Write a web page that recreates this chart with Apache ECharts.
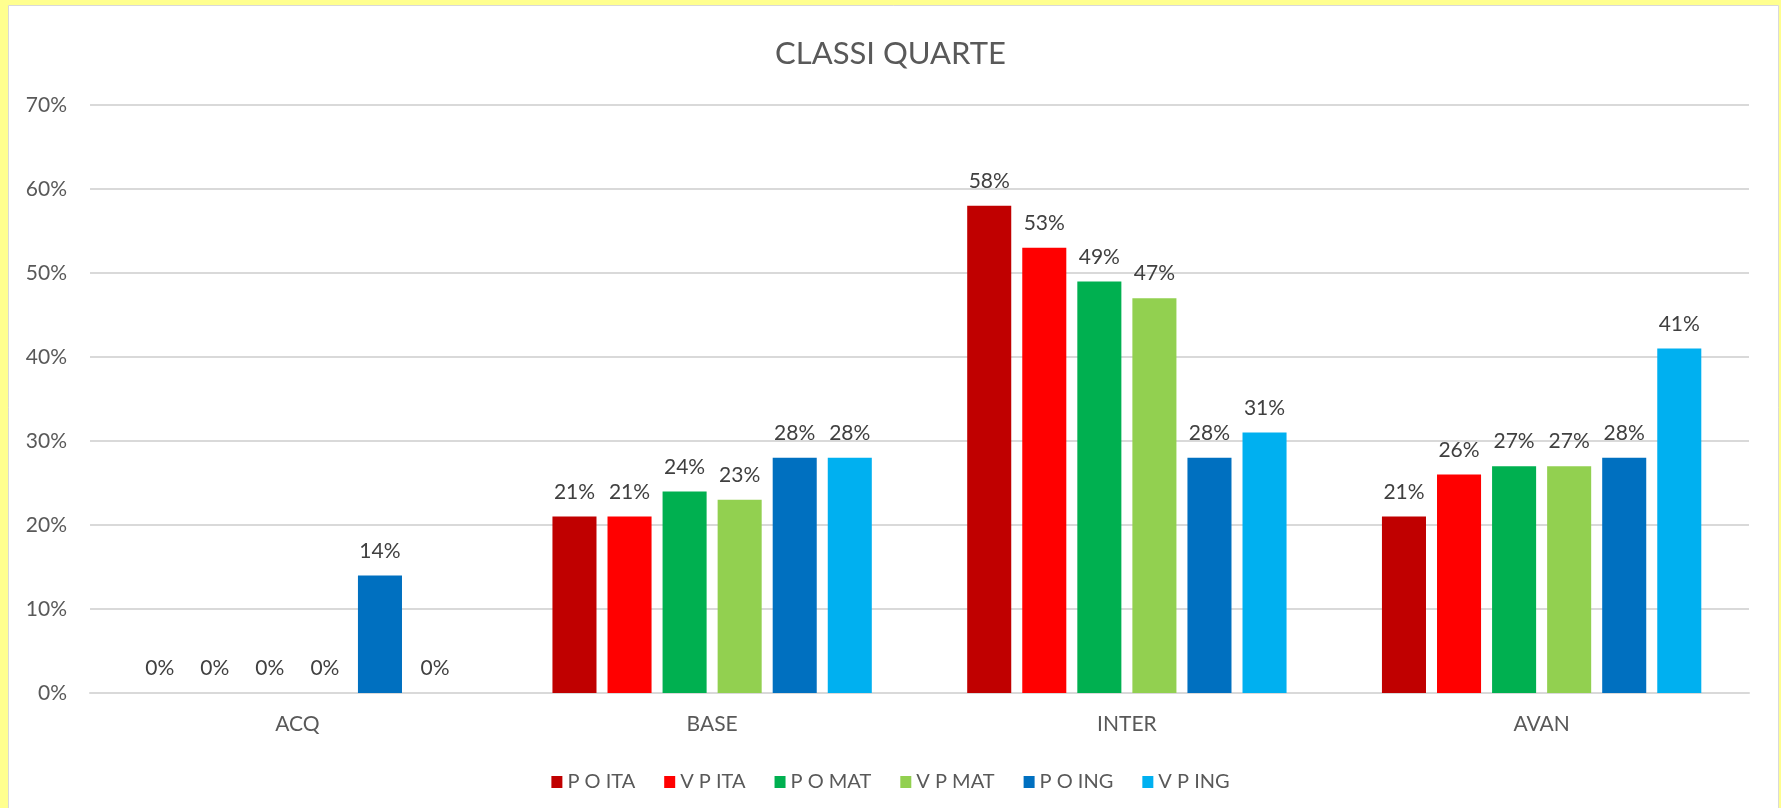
<!DOCTYPE html>
<html lang="it">
  <head>
    <meta charset="UTF-8" />
    <title>CLASSI QUARTE</title>
    <style>
      html, body { margin: 0; padding: 0; }
      #main { width: 1781px; height: 808px; }
    </style>
  </head>
  <body>
    <div id="main"></div>
    <script src="https://cdn.jsdelivr.net/npm/echarts@6/dist/echarts.min.js"></script>
    <script>
      // dati
      var categorie = ["ACQ", "BASE", "INTER", "AVAN"];
      var serieNomi = ["P O ITA", "V P ITA", "P O MAT", "V P MAT", "P O ING", "V P ING"];
      var colori = ["#C00000", "#FF0000", "#00B050", "#92D050", "#0070C0", "#00B0F0"];
      var poIta = [0, 21, 58, 21];
      var vpIta = [0, 21, 53, 26];
      var poMat = [0, 24, 49, 27];
      var vpMat = [0, 23, 47, 27];
      var poIng = [14, 28, 28, 28];
      var vpIng = [0, 28, 31, 41];
      var valori = [poIta, vpIta, poMat, vpMat, poIng, vpIng];

      var font = "Lato, 'Open Sans', sans-serif";
      var myChart = echarts.init(document.getElementById("main"));

      var series = serieNomi.map(function (nome, i) {
        return {
          name: nome,
          type: "bar",
          data: valori[i],
          barGap: "25%",
          barCategoryGap: "23%",
          itemStyle: { color: colori[i] },
          label: {
            show: true,
            position: "top",
            distance: 14,
            formatter: "{c}%",
            color: "#404040",
            fontSize: 21,
            fontFamily: font,
          },
        };
      });

      var option = {
        backgroundColor: "#FFFF8F",
        animation: false,
        graphic: [
          {
            type: "rect",
            shape: { x: 8.5, y: 5.5, width: 1770, height: 810 },
            style: { fill: "#FFFFFF", stroke: "#D9D9D9", lineWidth: 1 },
            z: -10,
          },
        ],
        title: {
          text: "CLASSI QUARTE",
          left: "center",
          top: 33,
          textStyle: {
            color: "#595959",
            fontSize: 31,
            fontWeight: "normal",
            fontFamily: font,
          },
        },
        legend: {
          data: serieNomi,
          left: "center",
          top: 767,
          icon: "rect",
          itemWidth: 11,
          itemHeight: 12,
          itemGap: 29,
          textStyle: { color: "#595959", fontSize: 20, fontFamily: font },
        },
        grid: { left: 90, right: 32, top: 105, bottom: 115 },
        xAxis: {
          type: "category",
          data: categorie,
          axisLine: { lineStyle: { color: "#D9D9D9", width: 2 } },
          axisTick: { show: false },
          axisLabel: { color: "#595959", fontSize: 21, fontFamily: font, margin: 21 },
        },
        yAxis: {
          type: "value",
          min: 0,
          max: 70,
          interval: 10,
          axisLine: { show: false },
          axisTick: { show: false },
          splitLine: { lineStyle: { color: "#D9D9D9", width: 2 } },
          axisLabel: {
            formatter: "{value}%",
            color: "#595959",
            fontSize: 21,
            fontFamily: font,
            margin: 23,
          },
        },
        series: series,
      };

      myChart.setOption(option);
    </script>
  </body>
</html>
